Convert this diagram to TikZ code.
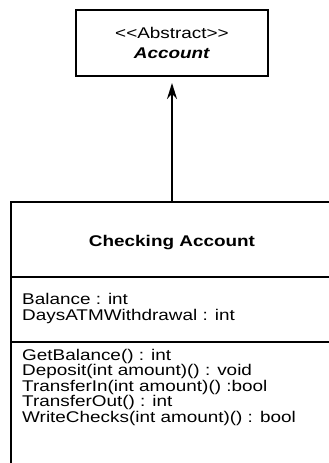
\documentclass[tikz,border=0pt]{standalone}
\usepackage{fontspec}
\setmainfont{Liberation Sans}[FakeStretch=1.22]
\usetikzlibrary{arrows.meta}

\tikzset{
  umlline/.style={line width=2pt, black},
  membertext/.style={anchor=base west, align=left, inner sep=0pt,
    font=\fontsize{15.5}{14}\selectfont},
}

\begin{document}
\begin{tikzpicture}[x=1pt,y=-1pt]
    \useasboundingbox (0,0) rectangle (329,463);
    \clip (0,0) rectangle (329,463);
    % abstract base class
    \node[draw, umlline, minimum width=192pt, minimum height=66pt, align=center,
      font=\fontsize{15.5}{20}\selectfont] (account) at (172,43)
      {<\kern0pt<Abstract>\kern0pt>\\\textbf{\textit{Account}}};
    % derived class, cut off by the page on the right and at the bottom
    \draw[umlline] (345,202) -- (11,202) -- (11,475);
    \draw[umlline] (11,277) -- (345,277);
    \draw[umlline] (11,342) -- (345,342);
    \coordinate (checking) at (172,202);
    \node[font=\bfseries\fontsize{15.5}{14}\selectfont] (name) at (172,243) {Checking Account};
    % base anchor sits on the last line
    \node[membertext, font=\fontsize{15.5}{15.5}\selectfont] (attrs) at (22,320) {Balance : int\\DaysATMWithdrawal : int};
    \node[membertext] (ops) at (22,422) {GetBalance() : int\\Deposit(int amount)() : void\\TransferIn(int amount)() :bool\\TransferOut() : int\\WriteChecks(int amount)() : bool};
    % inheritance
    \draw[-{Stealth[length=16pt,width=10pt]}, line width=2pt, shorten >=6pt] (checking) -- (account);
\end{tikzpicture}
\end{document}
